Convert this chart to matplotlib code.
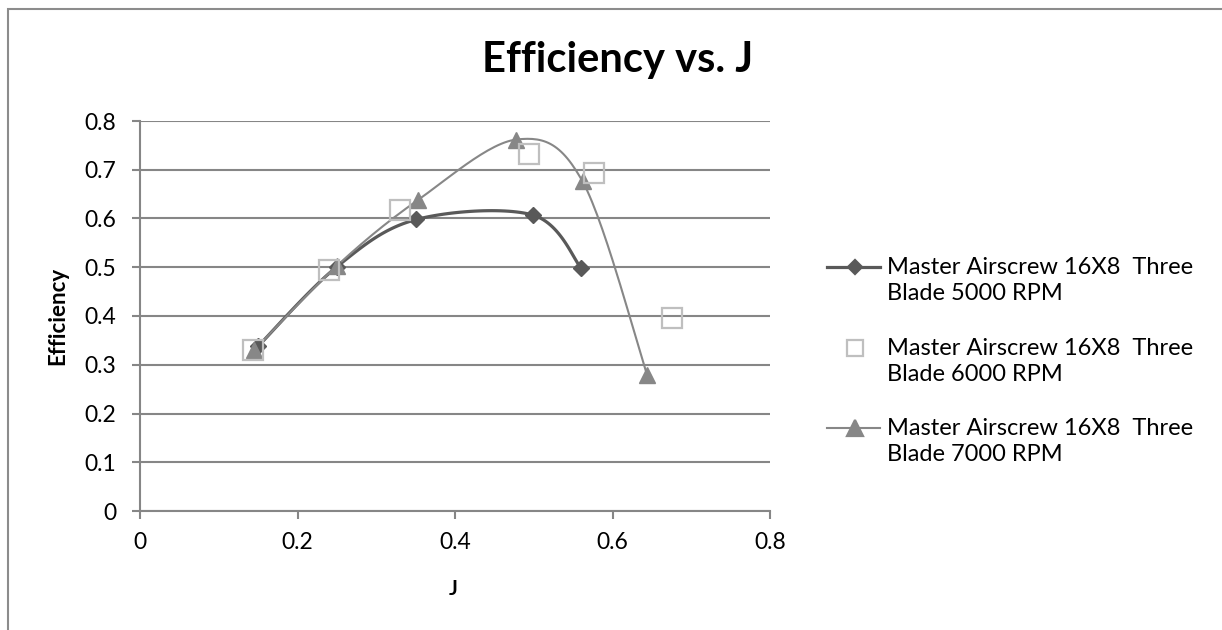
import numpy as np
from matplotlib import pyplot as plt
from matplotlib.patches import Rectangle
from matplotlib.lines import Line2D

plt.rcParams['font.family'] = ['Lato', 'DejaVu Sans']

# data
j_5000 = [0.150, 0.250, 0.351, 0.499, 0.560]
eff_5000 = [0.338, 0.501, 0.598, 0.607, 0.499]
j_6000 = [0.144, 0.240, 0.330, 0.494, 0.577, 0.675]
eff_6000 = [0.330, 0.494, 0.617, 0.732, 0.694, 0.395]
j_7000 = [0.145, 0.250, 0.353, 0.478, 0.562, 0.644]
eff_7000 = [0.330, 0.503, 0.638, 0.762, 0.676, 0.279]
labels = ['Master Airscrew 16X8  Three\nBlade 5000 RPM',
          'Master Airscrew 16X8  Three\nBlade 6000 RPM',
          'Master Airscrew 16X8  Three\nBlade 7000 RPM']


def smooth(x, y, n=30):
    # excel style smoothed line (catmull-rom bezier)
    p = np.column_stack([x, y])
    p = np.vstack([p[0], p, p[-1]])
    out = []
    t = np.linspace(0, 1, n)[:, None]
    for i in range(1, len(p) - 2):
        b0 = p[i]
        b3 = p[i + 1]
        b1 = b0 + (p[i + 1] - p[i - 1]) / 6
        b2 = b3 - (p[i + 2] - p[i]) / 6
        seg = (1 - t)**3*b0 + 3*(1 - t)**2*t*b1 + 3*(1 - t)*t**2*b2 + t**3*b3
        out.append(seg)
    out = np.vstack(out)
    return out[:, 0], out[:, 1]


W, H = 1222, 630
fig = plt.figure(figsize=(W/100, H/100), dpi=100)
fig.patches.append(Rectangle((8/W, -0.05), 1.2, 1.05 - 9/H, transform=fig.transFigure,
                             fill=False, edgecolor='#8c8c8c', lw=1.5))
ax = fig.add_axes([140/W, 1 - 511/H, 630/W, 390/H])

c1, c2, c3 = '#595959', '#bfbfbf', '#878787'
sx, sy = smooth(j_5000, eff_5000)
ax.plot(sx, sy, color=c1, lw=2.3, zorder=3)
ax.plot(j_5000, eff_5000, 'D', color=c1, ms=8, zorder=4)
ax.plot(j_6000, eff_6000, 's', mfc='none', mec=c2, mew=1.6, ms=14, zorder=5)
sx, sy = smooth(j_7000, eff_7000)
ax.plot(sx, sy, color=c3, lw=1.5, zorder=3)
ax.plot(j_7000, eff_7000, '^', color=c3, ms=11, zorder=4)

ax.set_xlim(0, 0.8)
ax.set_ylim(0, 0.8)
ax.set_xticks(np.arange(0, 0.81, 0.2))
ax.set_yticks(np.arange(0, 0.81, 0.1))
ax.set_xticklabels(['0', '0.2', '0.4', '0.6', '0.8'])
ax.set_yticklabels(['0'] + ['%.1f' % v for v in np.arange(0.1, 0.81, 0.1)])
ax.grid(axis='y', color='#868686', lw=1.5)
ax.set_axisbelow(True)
for s in ['top', 'right']:
    ax.spines[s].set_visible(False)
for s in ['left', 'bottom']:
    ax.spines[s].set_color('#868686')
    ax.spines[s].set_linewidth(1.5)
ax.tick_params(colors='#868686', labelcolor='black', labelsize=16.5, length=6, width=1.5, direction='out')
ax.tick_params(axis='y', pad=11)
ax.tick_params(axis='x', pad=9)

fig.text(58/W, 1 - 316/H, 'Efficiency', rotation=90, ha='center', va='center',
         fontsize=16, fontweight='bold')
fig.text(453/W, 1 - 589/H, 'J', ha='center', va='center', fontsize=15, fontweight='bold')
fig.text(618/W, 1 - 60/H, 'Efficiency vs. J', ha='center', va='center',
         fontsize=30, fontweight='bold')

# legend drawn by hand so the marker sits on the first text line
handles = [dict(color=c1, lw=2.3, marker='D', ms=7, mfc=c1, mec=c1),
           dict(color=c2, lw=0, marker='s', ms=12, mfc='none', mec=c2),
           dict(color=c3, lw=1.5, marker='^', ms=11, mfc=c3, mec=c3)]
rows = [267, 348, 428]
for hd, lab, yy in zip(handles, labels, rows):
    y = 1 - yy/H
    if hd['lw'] > 0:
        fig.add_artist(Line2D([827/W, 880/W], [y, y], color=hd['color'], lw=hd['lw']))
    fig.add_artist(Line2D([854.5/W], [y], ls='none', marker=hd['marker'], ms=hd['ms'],
                          mfc=hd['mfc'], mec=hd['mec'], mew=1.6))
    fig.text(887/W, 1 - (yy - 10)/H, lab, ha='left', va='top', fontsize=17, linespacing=1.3)

plt.savefig('out.png')
